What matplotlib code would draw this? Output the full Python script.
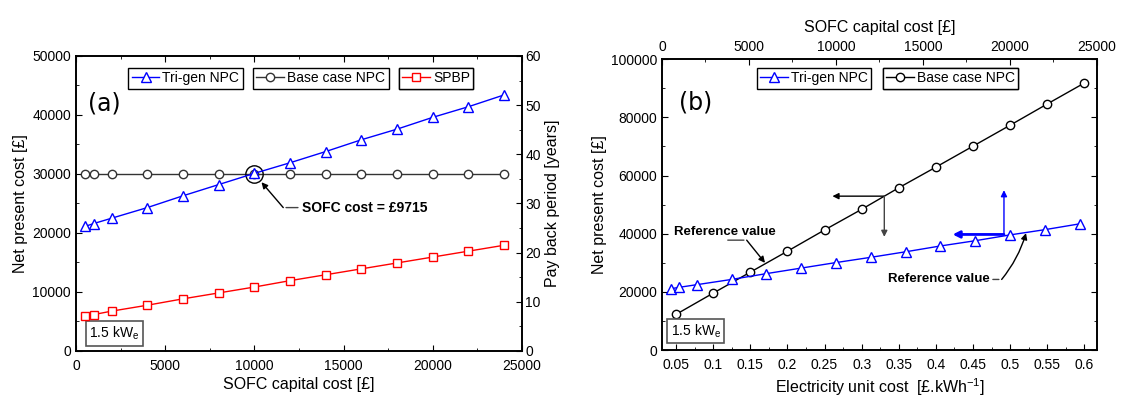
import matplotlib.pyplot as plt
from matplotlib.ticker import MultipleLocator

plt.rcParams["font.family"] = ["Liberation Sans", "DejaVu Sans"]
plt.rcParams["font.size"] = 10
plt.rcParams["mathtext.fontset"] = "custom"
plt.rcParams["mathtext.rm"] = "Liberation Sans"

# panel (a): SOFC capital cost sweep
sofc_cost = [500, 1000, 2000, 4000, 6000, 8000, 10000, 12000, 14000, 16000,
             18000, 20000, 22000, 24000]
trigen_npc = [21100, 21600, 22500, 24300, 26300, 28200, 30100, 31900, 33800,
              35800, 37600, 39600, 41400, 43400]
base_npc_a = [30000, 30000, 30000, 30000, 30000, 30000, 30000, 30000, 30000,
              30000, 30000, 30000, 30000, 30000]
spbp_years = [7.2, 7.4, 8.1, 9.3, 10.6, 11.8, 13.0, 14.3, 15.5, 16.7, 17.9,
              19.1, 20.3, 21.5]

# panel (b): electricity unit cost sweep (base case) on bottom axis
elec_cost = [0.05, 0.1, 0.15, 0.2, 0.25, 0.3, 0.35, 0.4, 0.45, 0.5, 0.55, 0.6]
base_npc_b = [12300, 19600, 26800, 34000, 41300, 48400, 55800, 62900, 70100,
              77300, 84600, 91800]

BLUE = "#0000ff"
RED = "#ff0000"
DARK = "#333333"
LBL = 11.5

fig = plt.figure(figsize=(11.22, 3.97), dpi=100)
ax_a = fig.add_axes([0.0677, 0.116, 0.3975, 0.743])
ax_r = ax_a.twinx()
ax_b = fig.add_axes([0.590, 0.118, 0.3877, 0.733])
ax_t = ax_b.twiny()


def style(ax, **kw):
    ax.tick_params(which="both", direction="in", labelsize=10, **kw)
    ax.tick_params(which="major", length=4)
    ax.tick_params(which="minor", length=2)
    for s in ax.spines.values():
        s.set_linewidth(1.2)


mk = dict(markerfacecolor="white", markeredgewidth=1.0, linewidth=1.0)

# ---------- panel (a)
l1, = ax_a.plot(sofc_cost, trigen_npc, color=BLUE, marker="^", markersize=6.5, zorder=3, **mk)
l2, = ax_a.plot(sofc_cost, base_npc_a, color=DARK, marker="o", markersize=6, zorder=2, **mk)
l3, = ax_r.plot(sofc_cost, spbp_years, color=RED, marker="s", markersize=5.5, **mk)
ax_a.set_xlim(0, 25000)
ax_a.set_ylim(0, 50000)
ax_r.set_ylim(0, 60)
ax_a.xaxis.set_major_locator(MultipleLocator(5000))
ax_a.xaxis.set_minor_locator(MultipleLocator(2500))
ax_a.yaxis.set_major_locator(MultipleLocator(10000))
ax_a.yaxis.set_minor_locator(MultipleLocator(5000))
ax_r.yaxis.set_major_locator(MultipleLocator(10))
ax_r.yaxis.set_minor_locator(MultipleLocator(5))
style(ax_a, top=True)
ax_a.tick_params(axis="x", pad=5.5)
style(ax_r)
ax_r.tick_params(axis="y", pad=2.5)
ax_a.set_xlabel("SOFC capital cost [£]", fontsize=LBL, labelpad=3)
ax_a.set_ylabel("Net present cost [£]", fontsize=LBL, labelpad=3)
ax_r.set_ylabel("Pay back period [years]", fontsize=LBL, labelpad=3)

ax_a.plot([10000], [30000], marker="o", markersize=12.5, markerfacecolor="none",
          markeredgecolor="k", markeredgewidth=1.0, linestyle="none")
ax_a.annotate("", xy=(11620, 24300), xytext=(12600, 24300),
              arrowprops=dict(arrowstyle="-", color="#444444", lw=1.0))
ax_a.annotate("", xy=(10400, 28600), xytext=(11620, 24300),
              arrowprops=dict(arrowstyle="-|>", color="k", lw=1.0, mutation_scale=9,
                              shrinkA=0, shrinkB=0))
ax_a.text(12650, 24300, "SOFC cost = £9715", fontsize=10, fontweight="bold",
          va="center", ha="left")
ax_a.text(0.027, 0.84, "(a)", transform=ax_a.transAxes, fontsize=17,
          family="DejaVu Sans", va="center")
ax_a.text(0.03, 0.045, r"1.5 kW$_\mathregular{e}$", transform=ax_a.transAxes, fontsize=10,
          bbox=dict(boxstyle="square,pad=0.25", fc="white", ec="#555555", lw=1.2))


def boxed_legend(ax, handle, label, x, y):
    leg = ax.legend([handle], [label], loc="upper left", bbox_to_anchor=(x, y),
                    fontsize=10, frameon=True, fancybox=False, framealpha=1,
                    edgecolor="k", borderpad=0.25, handlelength=2.0,
                    handletextpad=0.2, borderaxespad=0)
    leg.get_frame().set_linewidth(1.0)
    ax.add_artist(leg)


boxed_legend(ax_r, l1, "Tri-gen NPC", 0.117, 0.96)
boxed_legend(ax_r, l2, "Base case NPC", 0.397, 0.96)
boxed_legend(ax_r, l3, "SPBP", 0.724, 0.96)

# ---------- panel (b)
m1, = ax_t.plot(sofc_cost, trigen_npc, color=BLUE, marker="^", markersize=6.5, **mk)
m2, = ax_b.plot(elec_cost, base_npc_b, color="k", marker="o", markersize=6, **mk)
ax_b.set_xlim(0.031, 0.617)
ax_t.set_xlim(0, 25000)
ax_b.set_ylim(0, 100000)
ax_b.xaxis.set_major_locator(MultipleLocator(0.05))
ax_b.xaxis.set_minor_locator(MultipleLocator(0.025))
ax_b.xaxis.set_major_formatter(lambda v, p: f"{v:g}")
ax_t.xaxis.set_major_locator(MultipleLocator(5000))
ax_t.xaxis.set_minor_locator(MultipleLocator(2500))
ax_b.yaxis.set_major_locator(MultipleLocator(20000))
ax_b.yaxis.set_minor_locator(MultipleLocator(10000))
style(ax_b, right=True)
ax_b.tick_params(axis="x", pad=5.5)
style(ax_t)
ax_b.set_xlabel(r"Electricity unit cost  [£.kWh$^{\mathregular{-1}}$]", fontsize=LBL, labelpad=3)
ax_t.set_xlabel("SOFC capital cost [£]", fontsize=LBL, labelpad=6)
ax_b.set_ylabel("Net present cost [£]", fontsize=LBL, labelpad=3)

arw = dict(arrowstyle="-|>", lw=1.0, mutation_scale=9, shrinkA=0, shrinkB=0)
ax_b.annotate("", xy=(0.2606, 52920), xytext=(0.3305, 52920),
              arrowprops=dict(color="k", **arw))
ax_b.annotate("", xy=(0.3305, 38930), xytext=(0.3305, 52920),
              arrowprops=dict(color="#444444", **arw))
ax_b.annotate("", xy=(0.4226, 39760), xytext=(0.4917, 39760),
              arrowprops=dict(color=BLUE, arrowstyle="-|>", lw=2.0, mutation_scale=10,
                              shrinkA=0, shrinkB=0))
ax_b.annotate("", xy=(0.4917, 54980), xytext=(0.4917, 39760),
              arrowprops=dict(color=BLUE, **arw))

ax_b.text(0.0476, 40450, "Reference value", fontsize=9.5, fontweight="bold", va="center")
ax_b.annotate("", xy=(0.1451, 37800), xytext=(0.1159, 37800),
              arrowprops=dict(arrowstyle="-", color="#444444", lw=1.0))
ax_b.annotate("", xy=(0.1698, 30000), xytext=(0.1451, 37800),
              arrowprops=dict(color="k", **arw))
ax_b.text(0.4719, 24300, "Reference value", fontsize=9.5, fontweight="bold",
          va="center", ha="right")
ax_b.annotate("", xy=(0.4886, 24300), xytext=(0.4730, 24300),
              arrowprops=dict(arrowstyle="-", color="#444444", lw=1.0))
ax_b.annotate("", xy=(0.5214, 40200), xytext=(0.4886, 24300),
              arrowprops=dict(color="k", connectionstyle="arc3,rad=0.1", **arw))

ax_b.text(0.04, 0.85, "(b)", transform=ax_b.transAxes, fontsize=17,
          family="DejaVu Sans", va="center")
ax_b.text(0.02, 0.05, r"1.5 kW$_\mathregular{e}$", transform=ax_b.transAxes, fontsize=10,
          bbox=dict(boxstyle="square,pad=0.25", fc="white", ec="#555555", lw=1.2))

boxed_legend(ax_t, m1, "Tri-gen NPC", 0.218, 0.97)
boxed_legend(ax_t, m2, "Base case NPC", 0.507, 0.97)

fig.savefig("out.png", dpi=100)
